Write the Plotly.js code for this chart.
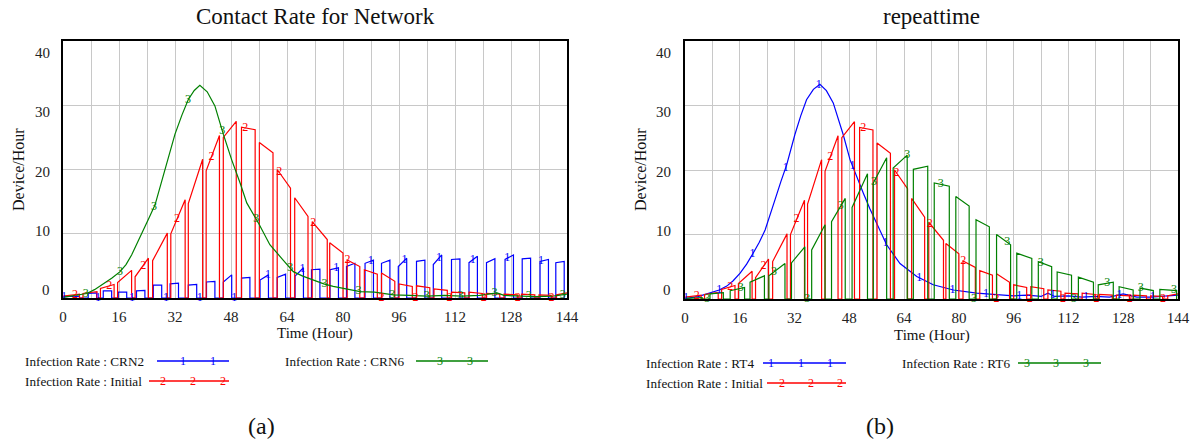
<!DOCTYPE html>
<html><head><meta charset="utf-8">
<script src="https://cdn.plot.ly/plotly-3.0.1.min.js"></script>
<style>html,body{margin:0;padding:0;background:#fff}#chart{width:1195px;height:443px}</style>
</head><body><div id="chart"></div>
<script>
// ---------- DATA ----------
const timeTickVals = [0,16,32,48,64,80,96,112,128,144];
const rateTickVals = [0,10,20,30,40];

// (a) Infection Rate : CRN6 (green, smooth)
const crn6T = [0,1,4,6.8,9,11.5,14,16.3,18,19.6,21.3,22.9,24.6,26.3,28.7,30.4,32,34,35.8,37.5,39.1,41.2,43.4,45.8,48.2,50.6,52.5,55.8,59.1,62.9,65.8,68.5,71.5,74.5,77.2,81,84.9,89,94.4,99,104,109,114,119,122,124,126,130,135,140,144];
const crn6V = [0.1,0.2,0.4,0.7,1.3,2.2,3.1,4.1,5.2,6.7,8.6,10.6,12.5,14.5,19.0,22.3,25.5,28.5,30.9,32.3,33.1,32.1,29.9,25.5,21.5,17.9,14.8,11.7,8.3,5.9,4.1,3.4,2.8,2.2,1.8,1.4,1.0,0.9,0.5,0.4,0.3,0.4,0.3,0.4,0.7,0.8,0.4,0.3,0.2,0.3,0.6];

// (a) Infection Rate : CRN2 (blue, pulses)
const crn2Start = [0,7.2,11.5,15.8,21.0,25.8,30.6,35.8,41.0,45.8,51.0,56.3,61.2,66.3,71.0,76.3,81.0,86.3,91.0,95.8,101.0,105.8,111.0,116.0,121.0,126.3,131.2,136.3,140.8];
const crn2End   = [4.7,9.6,13.9,18.2,23.4,28.2,33.0,38.2,43.4,48.2,53.4,58.7,63.6,68.7,73.4,78.7,83.4,88.7,93.4,98.2,103.4,108.2,113.4,118.4,123.4,128.7,133.6,138.7,143.2];
const crn2V0    = [0.2,0.7,1.1,0.9,1.1,2.0,2.2,2.0,2.5,2.5,3.1,2.8,3.2,3.4,4.4,4.4,4.9,5.4,5.4,4.9,5.7,5.2,6.0,5.5,5.5,6.0,6.1,5.7,5.5];
const crn2V1    = [0.3,0.8,1.1,0.9,1.2,2.0,2.3,2.1,2.6,3.6,3.2,3.6,3.7,4.7,4.5,4.7,5.4,5.9,5.9,6.2,5.9,6.7,6.1,6.5,6.1,6.7,6.2,6.0,5.7];

// Infection Rate : Initial (red, both panels)
const initStart = [0,5.7,10.7,15.6,20.6,25.6,30.8,35.8,40.9,45.8,51.0,56.1,61.2,66.2,71.2,76.2,81.2,86.1,91.0,96.0,101.0,106.0,111.0,116.0,121.0,126.0,131.0,136.0,141.0];
const initEnd   = [4.7,9.7,14.6,19.6,24.4,29.8,34.9,39.9,44.7,49.5,54.9,60.0,65.0,70.0,75.5,80.0,84.8,89.8,94.8,99.8,104.8,109.8,114.8,119.8,124.8,129.8,134.8,139.5,144];
const initV0    = [0.3,0.7,1.5,2.4,3.3,5.8,10.0,14.7,19.8,25.0,26.6,24.2,20.0,15.6,11.9,8.6,5.9,4.4,3.9,2.2,1.9,1.4,0.9,0.9,0.7,0.6,0.6,0.5,0.5];
const initV1    = [0.6,1.0,2.1,4.3,6.2,10.1,15.3,21.6,25.3,27.5,26.2,22.6,17.1,12.7,9.1,7.0,4.9,3.7,2.6,1.8,1.6,1.2,0.8,0.7,0.6,0.5,0.5,0.4,0.8];

// (b) Infection Rate : RT4 (blue, smooth)
const rt4T = [0,0.5,4,7.3,10,12.2,14,16.1,18,19.9,21.7,23.4,24.9,26.3,28,29.7,32.1,33.8,35.5,37.5,39.4,41.3,43.3,46.2,48.2,51.1,52.1,54,56,58.9,62.8,67.7,72.5,78.4,85.2,92,96,100,104,106,108,112,116,120,124,128,132,136,140,144];
const rt4V = [0.1,0.1,0.4,0.9,1.4,2.0,2.8,4.0,5.4,7.1,8.8,10.7,13.0,15.4,18.2,20.8,25.5,28.4,30.9,32.5,33.3,32.3,30.4,25.5,21.6,17.5,16.4,14.0,11.8,8.4,5.5,3.5,2.2,1.4,0.9,0.6,0.5,0.6,0.4,0.9,0.4,0.5,0.3,0.4,0.3,0.8,0.3,0.3,0.4,0.6];

// (b) Infection Rate : RT6 (green, blocks)
const rt6Start = [0,7.3,13.2,19.0,24.5,31.1,37.0,42.8,48.8,55.0,60.8,66.7,72.8,79.1,85.0,91.0,96.9,103.2,108.7,114.9,120.7,126.8,132.9,138.7];
const rt6End   = [5.0,11.2,17.4,23.2,29.2,35.0,40.9,46.8,53.3,58.9,64.9,70.9,77.2,83.0,88.9,95.1,101.3,107.1,112.9,119.3,125.1,130.9,136.8,143.6];
const rt6V0    = [0.1,0.8,1.3,2.6,3.6,5.6,7.6,12.0,14.2,18.0,20.3,20.1,18.0,15.9,12.3,10.0,7.1,5.8,4.2,3.4,2.2,1.9,1.7,1.5];
const rt6V1    = [0.2,1.0,1.8,3.6,5.5,8.1,11.5,15.6,19.4,21.9,22.3,20.6,17.5,14.4,11.2,8.4,6.3,5.0,3.7,2.6,2.6,1.4,1.3,1.3];

// line-label positions (times at which Vensim prints series numbers)
const mark1T = [0.3,10.0,19.7,29.4,39.1,48.9,58.6,68.4,78.1,87.9,97.6,107.4,117.1,126.9,136.6];
const mark2T = [3.4,13.2,22.9,32.6,42.4,52.1,61.8,71.5,81.3,91.0,100.7,110.4,120.2,129.9,139.6];
const mark3T = [6.5,16.3,26.0,35.7,45.5,55.2,64.9,74.7,84.4,94.1,103.9,113.6,123.3,133.1,142.8];

// ---------- BUILD ----------
const W = 1195, H = 443;
const px = x => x / W, py = y => 1 - y / H;
const BLUE = '#0000ff', RED = '#ff0000', GREEN = '#008000';
const SERIF = 'Liberation Serif';

function blocks(s, e, a, b) {
  const x = [], y = [];
  for (let i = 0; i < s.length; i++) {
    x.push(s[i], s[i], e[i]); y.push(0, a[i], b[i]);
    if (e[i] < 144) { x.push(e[i]); y.push(0); }
  }
  return {x, y};
}
function valueAt(ser, t) {
  const xs = ser.x, ys = ser.y;
  for (let i = 0; i < xs.length - 1; i++) {
    if (xs[i + 1] > xs[i] && t >= xs[i] && t <= xs[i + 1]) {
      const f = (t - xs[i]) / (xs[i + 1] - xs[i]);
      return ys[i] + f * (ys[i + 1] - ys[i]);
    }
  }
  return 0;
}
function lineTrace(ser, color, xa, ya) {
  return {x: ser.x, y: ser.y, xaxis: xa, yaxis: ya, type: 'scatter', mode: 'lines',
          line: {color: color, width: 1.2}, hoverinfo: 'skip', showlegend: false};
}
function markTrace(ser, times, label, color, xa, ya) {
  return {x: times, y: times.map(t => valueAt(ser, t)), xaxis: xa, yaxis: ya,
          type: 'scatter', mode: 'text', text: times.map(() => label),
          textposition: 'middle center', textfont: {family: SERIF, size: 12, color: color},
          hoverinfo: 'skip', showlegend: false, cliponaxis: false};
}

const sCRN6 = {x: crn6T, y: crn6V};
const sCRN2 = blocks(crn2Start, crn2End, crn2V0, crn2V1);
const sInit = blocks(initStart, initEnd, initV0, initV1);
const sRT4 = {x: rt4T, y: rt4V};
const sRT6 = blocks(rt6Start, rt6End, rt6V0, rt6V1);

const traces = [
  lineTrace(sCRN2, BLUE, 'x', 'y'), lineTrace(sInit, RED, 'x', 'y'), lineTrace(sCRN6, GREEN, 'x', 'y'),
  markTrace(sCRN2, mark1T, '1', BLUE, 'x', 'y'), markTrace(sInit, mark2T, '2', RED, 'x', 'y'), markTrace(sCRN6, mark3T, '3', GREEN, 'x', 'y'),
  lineTrace(sRT4, BLUE, 'x2', 'y2'), lineTrace(sInit, RED, 'x2', 'y2'), lineTrace(sRT6, GREEN, 'x2', 'y2'),
  markTrace(sRT4, mark1T, '1', BLUE, 'x2', 'y2'), markTrace(sInit, mark2T, '2', RED, 'x2', 'y2'), markTrace(sRT6, mark3T, '3', GREEN, 'x2', 'y2')
];

const GRID = '#c8c8c8';
function xAxis(dom, anchor) {
  return {domain: dom, anchor: anchor, range: [0, 144], tickvals: timeTickVals,
    showgrid: true, gridcolor: GRID, gridwidth: 1,
    minor: {dtick: 8, tick0: 0, showgrid: true, gridcolor: GRID, gridwidth: 1},
    showline: true, linecolor: '#000', linewidth: 2, mirror: true, ticks: '', zeroline: false,
    ticklabelstandoff: 4, tickfont: {family: SERIF, size: 15, color: '#222'}, fixedrange: true};
}
function yAxis(dom, anchor) {
  return {domain: dom, anchor: anchor, range: [0, 40], tickvals: rateTickVals,
    showgrid: true, gridcolor: GRID, gridwidth: 1, showticklabels: false,
    showline: true, linecolor: '#000', linewidth: 2, mirror: true, ticks: '', zeroline: false,
    fixedrange: true};
}

const ann = [];
function txt(text, x, y, size, opts) {
  ann.push(Object.assign({text: text, x: px(x), y: py(y), xref: 'paper', yref: 'paper', showarrow: false,
    xanchor: 'center', yanchor: 'middle', font: {family: SERIF, size: size, color: '#111'}}, opts || {}));
}
const shapes = [];
function legendItem(label, tx, y, x0, x1, color, num, numXs) {
  txt(label, tx, y, 13.2, {xanchor: 'left'});
  shapes.push({type: 'line', xref: 'paper', yref: 'paper', x0: px(x0), x1: px(x1), y0: py(y), y1: py(y),
               line: {color: color, width: 1.3}});
  numXs.forEach(nx => ann.push({text: num, x: px(nx), y: py(y), xref: 'paper', yref: 'paper', showarrow: false,
    xanchor: 'center', yanchor: 'middle', font: {family: SERIF, size: 12, color: color}}));
}

// Vensim-style value-axis labels (spread slightly inside the frame: 0 at y=290px, 40 at y=53px)
function yLabels(rightEdge) {
  rateTickVals.forEach(v => txt(String(v), rightEdge, 290 - (290 - 53) * v / 40, 15,
    {xanchor: 'right', font: {family: SERIF, size: 15, color: '#222'}}));
}
yLabels(52);
yLabels(673);

// titles
txt('Contact Rate for Network', 315, 17, 23);
txt('repeattime', 932, 17, 23);
txt('Time (Hour)', 315, 333, 15);
txt('Time (Hour)', 932, 335, 15);
txt('Device/Hour', 18, 170, 16, {textangle: -90});
txt('Device/Hour', 640, 170, 16, {textangle: -90});
txt('(a)', 261, 426, 24);
txt('(b)', 880, 426, 24);

// legends
legendItem('Infection Rate : CRN2', 23, 361, 157, 229, BLUE, '1', [183, 213]);
legendItem('Infection Rate : Initial', 23, 381, 149, 229, RED, '2', [163, 193, 223]);
legendItem('Infection Rate : CRN6', 283, 361, 416, 488, GREEN, '3', [440, 470]);
legendItem('Infection Rate : RT4', 644, 363, 763, 846, BLUE, '1', [771, 801, 830]);
legendItem('Infection Rate : Initial', 644, 383, 767, 846, RED, '2', [782, 811, 840]);
legendItem('Infection Rate : RT6', 900, 363, 1018, 1101, GREEN, '3', [1027, 1056, 1086]);

const layout = {
  width: W, height: H, margin: {l: 0, r: 0, t: 0, b: 0},
  paper_bgcolor: '#fff', plot_bgcolor: '#fff', showlegend: false,
  xaxis: xAxis([px(63), px(567)], 'y'),
  yaxis: yAxis([py(298), py(41)], 'x'),
  xaxis2: xAxis([px(685), px(1178)], 'y2'),
  yaxis2: yAxis([py(299), py(41)], 'x2'),
  annotations: ann, shapes: shapes
};
Plotly.newPlot('chart', traces, layout, {displayModeBar: false, staticPlot: true});
</script>
</body></html>
